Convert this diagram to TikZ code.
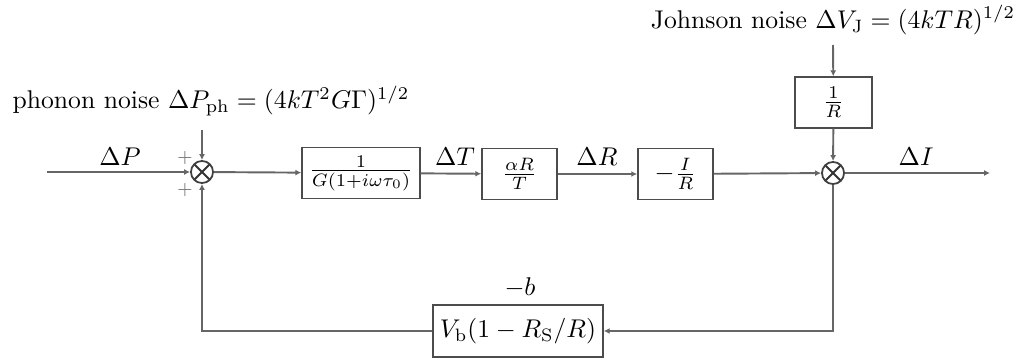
\documentclass[tikz,border=0pt]{standalone}
\usetikzlibrary{arrows.meta}
\begin{document}
\begin{tikzpicture}[x=0.39pt,y=-0.39pt,
  line/.style={draw=black!60,line width=0.75pt},
  arr/.style={line,-{Latex[length=2.3pt,width=2.3pt]}},
  block/.style={draw=black!70,line width=0.6pt,minimum height=19.8pt,inner sep=1pt},
  sumnode/.style={circle,draw=black!75,line width=0.7pt,minimum size=8.6pt,inner sep=0pt,
    path picture={\draw[black!80,line width=0.7pt] (path picture bounding box.south west) -- (path picture bounding box.north east)
      (path picture bounding box.north west) -- (path picture bounding box.south east);}},
  lbl/.style={inner sep=0pt}]
\useasboundingbox (0,0) rectangle (1014,363);
% nodes
\node[sumnode] (s1) at (202,172) {};
\node[sumnode] (s2) at (833,173) {};
\node[block,minimum width=46pt] (b1) at (361,173) {$\frac{1}{G(1+i\omega\tau_0)}$};
\node[block,minimum width=29.3pt] (b2) at (519.5,174) {$\frac{\alpha R}{T}$};
\node[block,minimum width=29.3pt] (b3) at (675.5,174) {$-\frac{I}{R}$};
\node[block,minimum width=30pt] (bR) at (833.5,102.5) {$\frac{1}{R}$};
\node[block,minimum width=66.3pt,minimum height=20.3pt] (bV) at (518,331) {$V_\mathrm{b}(1-R_\mathrm{S}/R)$};
\node[lbl] (ph) at (211,101) {phonon noise $\Delta P_\mathrm{ph}=(4kT^2G\Gamma)^{1/2}$};
\node[lbl] (jn) at (833,20) {Johnson noise $\Delta V_\mathrm{J}=(4kTR)^{1/2}$};
\node[lbl] (mb) at (520,288) {$-b$};
\node[lbl] (lP) at (120,157) {$\Delta P$};
\node[lbl] (lT) at (455,157) {$\Delta T$};
\node[lbl] (lR) at (597,157) {$\Delta R$};
\node[lbl] (lI) at (916,157) {$\Delta I$};
\node[lbl,black!55] (p1) at (185,158) {\scriptsize $+$};
\node[lbl,black!55] (p2) at (185,190) {\scriptsize $+$};
\coordinate (in) at (47,172);
\coordinate (out) at (990,173);
\coordinate (phs) at (202,130);
\coordinate (jns) at (833,45);
\coordinate (cR) at (833,331);
\coordinate (cL) at (202,331);
% connectors
\draw[arr] (in) -- (s1);
\draw[arr] (phs) -- (s1);
\draw[arr] (s1) -- (b1);
\draw[arr] (b1) -- (b2);
\draw[arr] (b2) -- (b3);
\draw[arr] (b3) -- (s2);
\draw[arr] (s2) -- (out);
\draw[arr] (jns) -- (bR);
\draw[arr] (bR) -- (s2);
\draw[arr] (s2) -- (cR) -- (bV);
\draw[arr] (bV) -- (cL) -- (s1);
\end{tikzpicture}
\end{document}
